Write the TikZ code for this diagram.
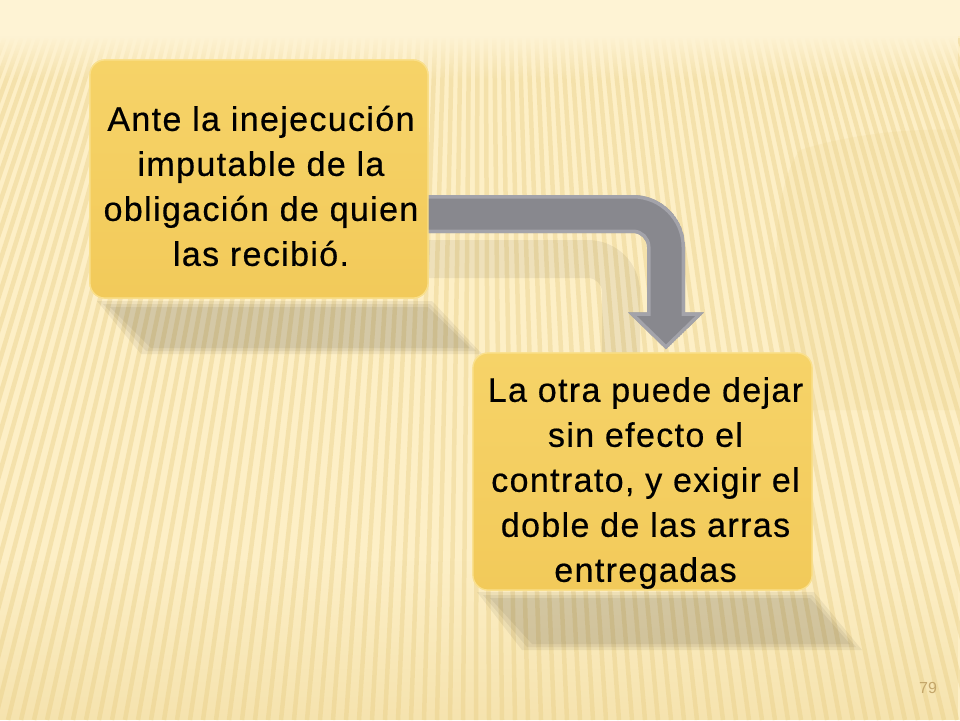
\documentclass[tikz,border=0pt]{standalone}
\usepackage{fontspec}
\setmainfont{Liberation Sans}
\newfontfamily\boxfont[LetterSpace=4,FakeBold=0.5]{Liberation Sans}
\usetikzlibrary{calc,fadings}
\definecolor{bgtop}{RGB}{254,243,212}
\definecolor{bgmid}{RGB}{253,239,198}
\definecolor{stripe}{RGB}{238,214,150}
\definecolor{bgdark}{RGB}{232,205,130}
\definecolor{goldtop}{RGB}{246,211,104}
\definecolor{goldbot}{RGB}{242,202,90}
\definecolor{goldedge}{RGB}{250,224,140}
\definecolor{arrowgray}{RGB}{136,136,142}
\definecolor{arrowlight}{RGB}{175,175,182}
\definecolor{pagenum}{RGB}{196,166,106}
\tikzset{
  boxnode/.style={rectangle, rounded corners=15pt, top color=goldtop, bottom color=goldbot,
    draw=goldedge, line width=1.2pt, inner sep=0pt},
  txtnode/.style={align=center, font=\boxfont\fontsize{34}{45}\selectfont, text=black, inner sep=0pt},
  shadowfill/.style={fill=black, opacity=0.055},
}
\begin{document}
\begin{tikzpicture}[x=1pt,y=-1pt]
\useasboundingbox (0,0) rectangle (960,720);
% background
\fill[bgmid] (0,0) rectangle (960,720);
\begin{scope}
  \clip (0,38) rectangle (960,720);
  \foreach \i in {0,...,125} {
    \pgfmathsetmacro{\xb}{-330+13*\i}
    \pgfmathsetmacro{\xt}{480+(\xb-480)*0.6495}
    \draw[stripe, line width=4.5pt, opacity=0.55] (\xt,38) -- (\xb,720);
  }
\end{scope}
\fill[bgtop] (0,0) rectangle (960,36);
\fill[bgtop, path fading=south] (0,35) rectangle (960,80);
\fill[bgdark, opacity=0.35, path fading=north] (0,560) rectangle (960,720);
\fill[bgdark, opacity=0.14] (800,150) .. controls (880,125) and (960,130) .. (960,130)
  -- (960,410) -- (790,410) .. controls (770,300) and (770,190) .. (800,150) -- cycle;
% box shadows
\fill[shadowfill] (97,301) -- (432,301) -- (482,354) -- (141,354) -- cycle;
\fill[shadowfill] (103,304) -- (430,304) -- (476,351) -- (146,351) -- cycle;
\fill[shadowfill] (110,307) -- (428,307) -- (470,348) -- (151,348) -- cycle;
\fill[shadowfill] (477,592) -- (814,592) -- (862,650) -- (522,650) -- cycle;
\fill[shadowfill] (483,595) -- (812,595) -- (856,647) -- (527,647) -- cycle;
\fill[shadowfill] (490,598) -- (810,598) -- (850,644) -- (532,644) -- cycle;
% boxes (positions)
\node[boxnode, minimum width=338pt, minimum height=238pt] (b1) at (259,179) {};
\node[boxnode, minimum width=339pt, minimum height=237pt] (b2) at (642.5,471.5) {};
% arrow geometry
\coordinate (s) at ($(b1.east)+(-8,35)$);
\coordinate (t) at ($(b2.north)+(23.5,-3)$);
\coordinate (c) at (s -| t);
\def\arrowpath{($(s)+(0,-19)$) -- ($(c)+(-33,-19)$)
  .. controls ($(c)+(-4.3,-19)$) and ($(c)+(19,4.3)$) .. ($(c)+(19,33)$)
  -- ($(t)+(19,-37)$) -- ($(t)+(38,-37)$) -- (t) -- ($(t)+(-38,-37)$) -- ($(t)+(-19,-37)$)
  -- ($(c)+(-19,33)$)
  .. controls ($(c)+(-19,25.3)$) and ($(c)+(-25.3,19)$) .. ($(c)+(-33,19)$)
  -- ($(s)+(0,19)$) -- cycle}
% arrow shadow
\begin{scope}[transform canvas={shift={(-45pt,-45pt)}}]
  \fill[black, opacity=0.06] \arrowpath;
\end{scope}
% boxes drawn over the arrow shadow
\node[boxnode, minimum width=338pt, minimum height=238pt] (b1a) at (b1) {};
\node[boxnode, minimum width=339pt, minimum height=237pt] (b2a) at (b2) {};
% arrow
\begin{scope}
  \clip \arrowpath;
  \fill[arrowgray] \arrowpath;
  \draw[arrowlight, line width=7pt, opacity=0.7] \arrowpath;
\end{scope}
\node[boxnode, minimum width=338pt, minimum height=238pt] (b1top) at (b1) {};
% texts
\node[txtnode] (t1) at (261,186) {Ante la inejecución\\imputable de la\\obligación de quien\\las recibió.};
\node[txtnode] (t2) at (645.5,483) {La otra puede dejar\\sin efecto el\\contrato, y exigir el\\doble de las arras\\entregadas};
% page number
\node[font=\fontsize{16}{19}\selectfont, text=pagenum, anchor=base] (pn) at (928,693) {79};
\end{tikzpicture}
\end{document}
